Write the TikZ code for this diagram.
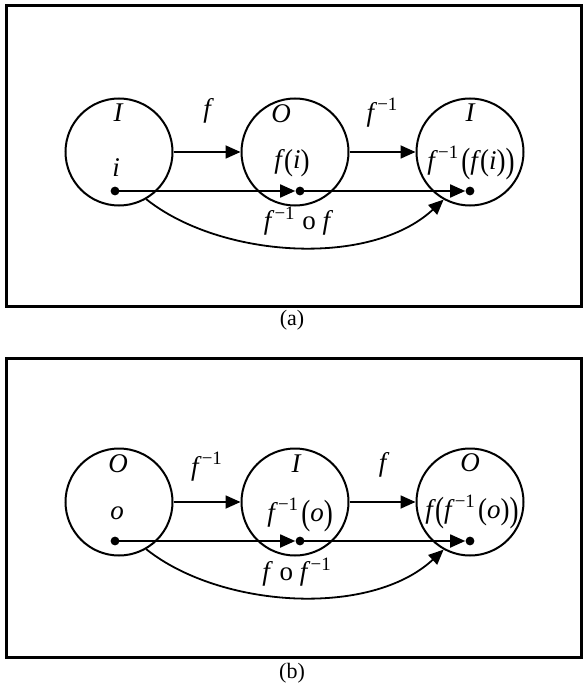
\documentclass[tikz,border=0pt]{standalone}
\usepackage{fontspec}
\setmainfont{Liberation Serif}
\usepackage{graphicx}
\usetikzlibrary{arrows.meta}
\newcommand{\fn}{\textit{f}}
\newcommand{\inv}{\kern0.12em\textsuperscript{\upshape −1}}
\newcommand{\op}{\kern0.08em\raisebox{-0.05em}{\scalebox{1}[1.12]{\textup{(}}}}
\newcommand{\cp}{\raisebox{-0.05em}{\scalebox{1}[1.12]{\textup{)}}}}
\newcommand{\bop}{\kern0.08em\raisebox{-0.12em}{\scalebox{1}[1.3]{\textup{(}}}}
\newcommand{\bcp}{\raisebox{-0.12em}{\scalebox{1}[1.3]{\textup{)}}}}
\begin{document}
\begin{tikzpicture}[x=0.5pt,y=-0.5pt,
    set/.style={draw,circle,line width=1pt,minimum size=53.5pt,inner sep=0pt},
    lbl/.style={font=\fontsize{13.5}{15}\selectfont\itshape,inner sep=0pt},
    arr/.style={line width=0.9pt,-{Triangle[length=7.5pt,width=6.5pt]}},
    frame/.style={line width=1.5pt},
    pt/.style={circle,fill,inner sep=0pt,minimum size=4.4pt},
    subcap/.style={font=\fontsize{11}{13}\selectfont}]
    \useasboundingbox (0,0) rectangle (584,684);

    % (a)
    \draw[frame] (6,6) rectangle (581,306);
    \node[subcap] at (292,320) {(a)};
    \node[set] (ca1) at (119,152) {};
    \node[set] (ca2) at (295,152) {};
    \node[set] (ca3) at (470,152) {};
    \node[lbl] at (118,113) {I};
    \node[lbl] at (281,114) {O};
    \node[lbl] at (470,113) {I};
    \node[lbl] at (116,168) {i};
    \node[lbl] at (292,163) {\fn\op i\cp};
    \node[lbl] at (471,163) {\fn\inv\bop\fn\op i\cp\bcp};
    \node[pt] (da1) at (115,191) {};
    \node[pt] (da2) at (300,191) {};
    \node[pt] (da3) at (470,191) {};
    \draw[arr] (ca1.east) -- (ca2.west) node[lbl,midway,above=14pt] {\fn};
    \draw[arr] (ca2.east) -- (ca3.west) node[lbl,midway,above=12pt] {\fn\inv};
    \draw[arr] (da1.center) -- (da2.west);
    \draw[arr] (da2.center) -- (da3.west);
    \draw[arr] (ca1.-60) .. controls (220,258) and (370,268) .. (ca3.-119);
    \node[lbl] at (297,221) {\fn\inv\ \textup{o} \fn};

    % (b)
    \begin{scope}[yshift=-175pt]
    \draw[frame] (6,8) rectangle (581,307);
    \node[subcap] at (292,323) {(b)};
    \node[set] (cb1) at (119,152) {};
    \node[set] (cb2) at (295,152) {};
    \node[set] (cb3) at (470,152) {};
    \node[lbl] at (118,114) {O};
    \node[lbl] at (296,114) {I};
    \node[lbl] at (470,113) {O};
    \node[lbl] at (117,163) {o};
    \node[lbl] at (300,165) {\fn\inv\bop o\bcp};
    \node[lbl] at (472,162) {\fn\bop\fn\inv\op o\cp\bcp};
    \node[pt] (db1) at (115,191) {};
    \node[pt] (db2) at (300,191) {};
    \node[pt] (db3) at (470,191) {};
    \draw[arr] (cb1.east) -- (cb2.west) node[lbl,midway,above=10pt] {\fn\inv};
    \draw[arr] (cb2.east) -- (cb3.west) node[lbl,midway,above=12pt] {\fn};
    \draw[arr] (db1.center) -- (db2.west);
    \draw[arr] (db2.center) -- (db3.west);
    \draw[arr] (cb1.-60) .. controls (220,258) and (370,268) .. (cb3.-119);
    \node[lbl] at (297,222) {\fn\ \textup{o} \fn\inv};
    \end{scope}
\end{tikzpicture}
\end{document}
